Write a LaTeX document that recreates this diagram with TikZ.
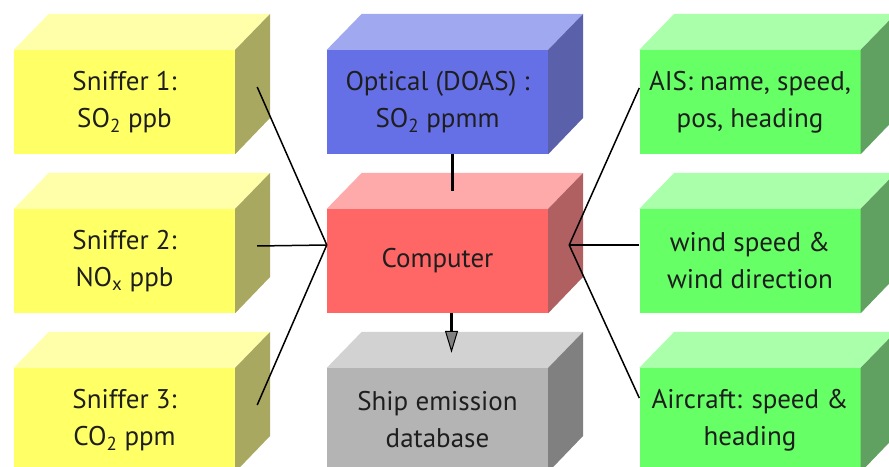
\documentclass[tikz,border=0pt]{standalone}
\usepackage{fontspec}
\setmainfont{PT Sans}
\usetikzlibrary{arrows.meta}
% face colours: front, top, side
\definecolor{yelfront}{RGB}{255,255,102}
\definecolor{yeltop}{RGB}{255,255,170}
\definecolor{yelside}{RGB}{168,168,96}
\definecolor{bluefront}{RGB}{102,112,230}
\definecolor{bluetop}{RGB}{160,168,240}
\definecolor{blueside}{RGB}{90,96,170}
\definecolor{redfront}{RGB}{255,102,102}
\definecolor{redtop}{RGB}{255,170,170}
\definecolor{redside}{RGB}{176,96,96}
\definecolor{greyfront}{RGB}{180,180,180}
\definecolor{greytop}{RGB}{210,210,210}
\definecolor{greyside}{RGB}{128,128,128}
\definecolor{grnfront}{RGB}{102,255,102}
\definecolor{grntop}{RGB}{170,255,170}
\definecolor{grnside}{RGB}{96,160,96}
\definecolor{ink}{RGB}{30,30,30}
\tikzset{
  cubefront/.style={minimum width=221pt, minimum height=104pt, inner sep=0pt,
    align=center, text=ink, font=\fontsize{27}{37}\selectfont},
  link/.style={line width=1.5pt, black},
  feed/.style={line width=3.5pt, black}
}
\begin{document}
\begin{tikzpicture}[x=1pt,y=1pt]
  \useasboundingbox (0,0) rectangle (889,466);
  % cubes: front face is the node, top and side are filled after it
  \foreach \nm/\x/\y/\col/\txt in {
      snA/124.5/364/yel/{Sniffer 1:\\SO\textsubscript{2} ppb},
      snB/124.5/205/yel/{Sniffer 2:\\NO\textsubscript{x} ppb},
      snC/124.5/46/yel/{Sniffer 3:\\CO\textsubscript{2} ppm},
      opt/437.5/364/blue/{Optical (DOAS) :\\SO\textsubscript{2} ppmm},
      comp/437.5/205/red/{Computer},
      db/437.5/46/grey/{Ship emission\\database},
      ais/750/364/grn/{AIS: name, speed,\\pos, heading},
      wind/750/205/grn/{wind speed \&\\wind direction},
      air/750/46/grn/{Aircraft: speed \&\\heading}}
  {
    \node[cubefront, fill=\col front] (\nm) at (\x,\y) {\txt};
    \fill[\col top] (\nm.north west) -- (\nm.north east) -- ++(35,36)
      -- ([shift={(35,36)}]\nm.north west) -- cycle;
    \fill[\col side] (\nm.north east) -- ++(35,36) -- ++(0,-104)
      -- (\nm.south east) -- cycle;
  }
  % sensors into the computer
  \foreach \s in {snA,snB,snC}
    \draw[link] ([shift={(22,15)}]\s.east) -- ([yshift=16]comp.west);
  \draw[link] ([yshift=14]ais.west) -- ([shift={(21,16)}]comp.east);
  \draw[link] ([yshift=16]wind.west) -- ([shift={(21,16)}]comp.east);
  \draw[link] ([yshift=22]air.west) -- ([shift={(21,16)}]comp.east);
  % optical down to computer, computer down to database
  \draw[feed] ([xshift=15]opt.south) -- ([shift={(15,18)}]comp.north);
  \draw[feed, -{Triangle[length=22pt, width=13pt, line width=1pt, fill=gray]}]
    ([xshift=14]comp.south) -- ([shift={(14,15)}]db.north);
\end{tikzpicture}
\end{document}
